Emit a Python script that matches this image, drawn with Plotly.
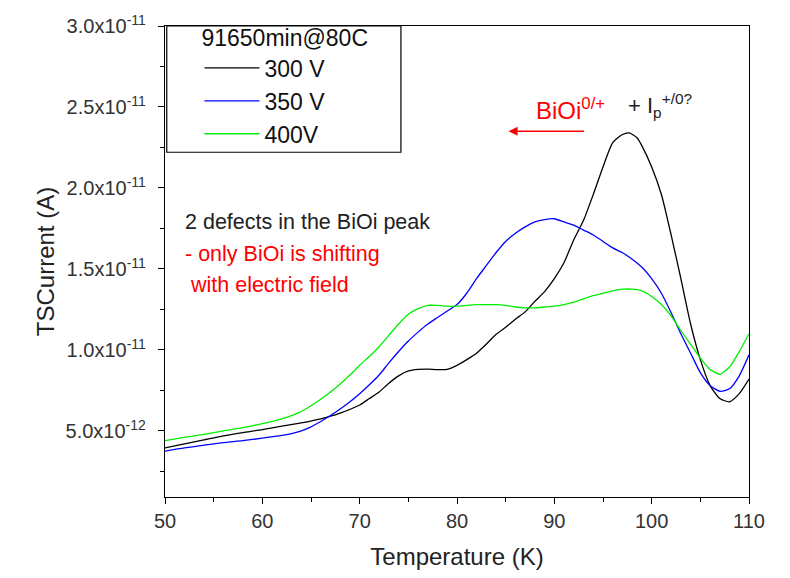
import plotly.graph_objects as go

# Temperature (K) and current values (in units of 1e-12 A)
T_300 = [50, 52, 54, 56, 58, 60, 62, 64, 66, 68, 70, 71, 72, 73, 74, 75, 76, 77, 78, 79,
         80, 81, 82, 83, 84, 85, 86, 87, 88, 89, 90, 91, 92, 93, 94, 95, 96, 97, 97.7,
         98.5, 99, 100, 101, 102, 103, 104, 105, 106, 107, 108, 109, 110]
I_300 = [3.95, 4.2, 4.45, 4.7, 4.9, 5.08, 5.3, 5.5, 5.75, 6.1, 6.6, 7.0, 7.4, 7.95, 8.4, 8.7,
         8.8, 8.82, 8.78, 8.8, 9.05, 9.4, 9.8, 10.35, 10.95, 11.4, 11.9, 12.35, 13.0, 13.6,
         14.4, 15.4, 16.8, 18.0, 19.6, 21.3, 22.8, 23.3, 23.4, 23.1, 22.6, 21.3, 19.6, 17.1,
         14.4, 11.6, 9.4, 7.8, 7.0, 6.8, 7.3, 8.2]

T_350 = [50, 52, 54, 56, 58, 60, 62, 63, 64, 65, 66, 67, 68, 69, 70, 71, 72, 73, 74, 75, 76,
         77, 78, 79, 80, 81, 82, 83, 84, 85, 86, 87, 88, 89, 90, 91, 92, 93, 94, 95, 96, 97,
         98, 99, 100, 101, 102, 103, 104, 105, 106, 107, 108, 109, 110]
I_350 = [3.75, 3.95, 4.12, 4.28, 4.4, 4.55, 4.72, 4.84, 5.0, 5.25, 5.58, 5.95, 6.35, 6.8, 7.3,
         7.85, 8.45, 9.2, 9.9, 10.55, 11.1, 11.6, 12.0, 12.4, 12.8, 13.5, 14.4, 15.2, 16.0,
         16.7, 17.2, 17.6, 17.9, 18.05, 18.1, 17.9, 17.7, 17.4, 17.1, 16.7, 16.3, 16.0, 15.6,
         15.1, 14.4, 13.5, 12.3, 11.0, 9.8, 8.6, 7.8, 7.45, 7.6, 8.4, 9.7]

T_400 = [50, 52, 54, 56, 58, 60, 62, 63, 64, 65, 66, 67, 68, 69, 70, 71, 72, 73, 74, 75, 76,
         77, 78, 79, 80, 81, 82, 83, 84, 85, 86, 87, 88, 89, 90, 91, 92, 93, 94, 95, 96, 97,
         98, 99, 100, 101, 102, 103, 104, 105, 106, 107, 108, 109, 110]
I_400 = [4.4, 4.6, 4.78, 5.0, 5.2, 5.45, 5.75, 5.95, 6.2, 6.55, 6.95, 7.4, 7.9, 8.45, 9.05,
         9.6, 10.2, 10.9, 11.6, 12.2, 12.55, 12.75, 12.75, 12.7, 12.7, 12.75, 12.8, 12.8,
         12.8, 12.75, 12.65, 12.6, 12.6, 12.65, 12.7, 12.8, 12.95, 13.15, 13.35, 13.5, 13.65,
         13.75, 13.75, 13.65, 13.3, 12.8, 12.1, 11.2, 10.35, 9.5, 8.8, 8.5, 8.95, 9.9, 11.0]

SCALE = 1e-12
series_names = ["300 V", "350 V", "400V"]
series_colors = ["#000000", "#0000ff", "#00ee00"]

y_tickvals = [5e-12, 1.0e-11, 1.5e-11, 2.0e-11, 2.5e-11, 3.0e-11]
y_ticktext = ["5.0x10<sup>-12</sup>", "1.0x10<sup>-11</sup>", "1.5x10<sup>-11</sup>",
              "2.0x10<sup>-11</sup>", "2.5x10<sup>-11</sup>", "3.0x10<sup>-11</sup>"]
y_minorvals = [2.5e-12, 7.5e-12, 1.25e-11, 1.75e-11, 2.25e-11, 2.75e-11]

FONT = "Liberation Sans, Arial, sans-serif"

fig = go.Figure()
for T, I, name, col in zip([T_300, T_350, T_400], [I_300, I_350, I_400],
                           series_names, series_colors):
    fig.add_trace(go.Scatter(x=T, y=[v * SCALE for v in I], mode="lines", name=name,
                             line=dict(color=col, width=1.3, shape="spline", smoothing=0.6)))

fig.update_layout(
    width=790, height=578,
    margin=dict(l=165, r=41, t=20, b=77),
    plot_bgcolor="white", paper_bgcolor="white",
    font=dict(family=FONT, color="#222222"),
    showlegend=True,
    legend=dict(
        x=0.059, y=1.02, xanchor="left", yanchor="top",
        bgcolor="rgba(0,0,0,0)", borderwidth=0,
        font=dict(size=23, color="#111111"),
        title=dict(text="91650min@80C", font=dict(size=23, color="#111111")),
        tracegroupgap=0, itemwidth=55,
    ),
    shapes=[dict(type="rect", xref="paper", yref="paper", x0=0.003, x1=0.404,
                 y0=0.732, y1=1.0, line=dict(color="black", width=1.2),
                 fillcolor="white", layer="below")],
    xaxis=dict(
        range=[50, 110], tickmode="linear", tick0=50, dtick=10,
        ticks="outside", ticklen=6, tickwidth=1, tickcolor="black",
        minor=dict(dtick=5, tick0=50, ticks="outside", ticklen=4, tickcolor="black"),
        showline=True, linecolor="black", linewidth=1.3, mirror=True,
        showgrid=False, zeroline=False,
        tickfont=dict(size=20, color="#333333"),
        title=dict(text="Temperature (K)", font=dict(size=24, color="#222222"), standoff=17),
    ),
    yaxis=dict(
        range=[0.92e-12, 3.0e-11], tickmode="array", tickvals=y_tickvals, ticktext=y_ticktext,
        ticks="outside", ticklen=6, tickwidth=1, tickcolor="black",
        minor=dict(tickmode="array", tickvals=y_minorvals, ticks="outside", ticklen=4,
                   tickcolor="black"),
        showline=True, linecolor="black", linewidth=1.3, mirror=True,
        showgrid=False, zeroline=False, ticklabelstandoff=8,
        tickfont=dict(size=20, color="#333333"),
        title=dict(text="TSCurrent (A)", font=dict(size=24, color="#222222"), standoff=4),
    ),
)

fig.add_annotation(x=51.85, y=17.9e-12, xref="x", yref="y", xanchor="left", yanchor="middle",
                   text="2 defects in the BiOi peak", showarrow=False,
                   font=dict(size=21.5, color="#222222"))
fig.add_annotation(x=51.85, y=15.9e-12, xref="x", yref="y", xanchor="left", yanchor="middle",
                   text="- only BiOi is shifting", showarrow=False,
                   font=dict(size=21.5, color="#ff0000"))
fig.add_annotation(x=51.85, y=14.0e-12, xref="x", yref="y", xanchor="left", yanchor="middle",
                   text="&nbsp;with electric field", showarrow=False,
                   font=dict(size=21.5, color="#ff0000"))
fig.add_annotation(x=87.9, y=24.85e-12, xref="x", yref="y", xanchor="left", yanchor="middle",
                   text="BiOi<sup>0/+</sup>", showarrow=False,
                   font=dict(size=24, color="#ff0000"))
fig.add_annotation(x=97.4, y=25.1e-12, xref="x", yref="y", xanchor="left", yanchor="middle",
                   text="+ I<sub>p</sub><sup>+/0?</sup>", showarrow=False,
                   font=dict(size=22, color="#222222"))
fig.add_annotation(x=85.3, y=23.5e-12, ax=93.2, ay=23.5e-12, xref="x", yref="y",
                   axref="x", ayref="y", text="", showarrow=True, arrowhead=2,
                   arrowsize=1.2, arrowwidth=1.5, arrowcolor="#ff0000")

fig.write_html("out.html")
